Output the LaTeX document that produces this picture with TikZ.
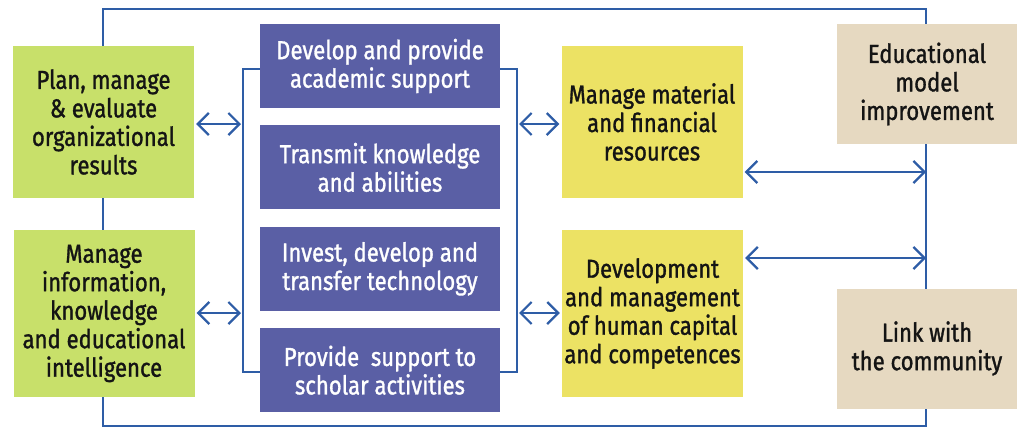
\documentclass[tikz,border=0pt]{standalone}
\usepackage{fontspec}
\setmainfont{Fira Sans}[FakeStretch=0.85, FakeBold=1.2]
\usepackage{tikz}
\usetikzlibrary{positioning, arrows.meta}
\definecolor{framblue}{HTML}{2E5DA6}
\definecolor{leafgreen}{HTML}{C8E06A}
\definecolor{corepurple}{HTML}{5A5FA5}
\definecolor{sunyellow}{HTML}{ECE264}
\definecolor{sandbeige}{HTML}{E6D9C1}
\tikzset{
box/.style={inner sep=0pt, align=center, text=black!92, font=\fontsize{26}{28.5}\selectfont}, % common to all boxes
strategic/.style={box, fill=leafgreen, minimum width=181pt}, % left column
core/.style={box, fill=corepurple, text=white, minimum width=240pt, minimum height=84pt}, % middle column
resource/.style={box, fill=sunyellow, minimum width=181pt}, % right column
outer/.style={box, fill=sandbeige, minimum width=180pt, minimum height=120pt}, % far right
link/.style={draw=framblue, line width=2.2pt}, % blue lines
both/.style={link, {Straight Barb[length=11pt,width=22pt]}-{Straight Barb[length=11pt,width=22pt]}, shorten <=2pt, shorten >=2pt}, % double arrows
}
\begin{document}
\begin{tikzpicture}[x=1pt, y=-1pt]
\useasboundingbox (0,0) rectangle (1027,429);
% frame behind everything
\draw[link] (103,9) rectangle (926,426);
% left column
\node[strategic, minimum height=152pt] (plan) at (103.5,122) {Plan, manage\\\& evaluate\\organizational\\results};
\node[strategic, minimum height=167pt] (info) at (104,313.5) {Manage\\information,\\knowledge\\and educational\\intelligence};
% middle column
\node[core] (dev) at (380,66) {Develop and provide\\academic support};
\node[core, below=17pt of dev] (trans) {Transmit knowledge\\and abilities};
\node[core, below=17pt of trans] (inv) {Invest, develop and\\transfer technology};
\node[core, below=17pt of inv] (prov) {Provide\ \ support to\\scholar activities};
% right column
\node[resource, minimum height=152pt] (mat) at (652,122) {Manage material\\and financial\\resources};
\node[resource, minimum height=167pt] (hum) at (652.5,313.5) {Development\\and management\\of human capital\\and competences};
\node[outer] (model) at (927,84) {Educational\\model\\improvement};
\node[outer] (comm) at (927,348.5) {Link with\\the community};
% brackets round the middle column
\coordinate (lt) at (243,69);
\coordinate (lb) at (243,372);
\coordinate (rt) at (517,69);
\coordinate (rb) at (517,372);
\draw[link] (lt -| dev.west) -- (lt) -- (lb) -- (lb -| prov.west);
\draw[link] (rt -| dev.east) -- (rt) -- (rb) -- (rb -| prov.east);
% arrows
\coordinate (a1) at (0,124);
\coordinate (a2) at (0,313);
\draw[both] (a1 -| plan.east) -- (a1 -| lt);
\draw[both] (a2 -| info.east) -- (a2 -| lt);
\draw[both] (a1 -| rt) -- (a1 -| mat.west);
\draw[both] (a2 -| rt) -- (a2 -| hum.west);
\coordinate (f1) at (926,172);
\coordinate (f2) at (926,258);
\draw[both, shorten >=0pt] (f1 -| mat.east) -- (f1);
\draw[both, shorten >=0pt] (f2 -| hum.east) -- (f2);
\end{tikzpicture}
\end{document}
